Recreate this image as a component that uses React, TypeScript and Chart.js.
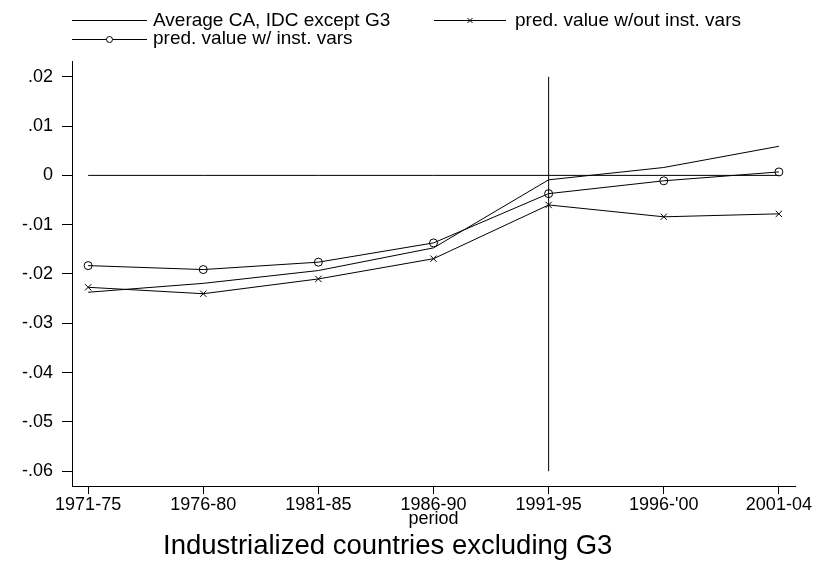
import React, { useEffect, useRef } from "react";
import { Chart, registerables } from "chart.js";

Chart.register(...registerables);

const categories = ["1971-75", "1976-80", "1981-85", "1986-90", "1991-95", "1996-'00", "2001-04"];
const avgCA = [-0.0237, -0.0219, -0.0193, -0.0147, -0.0009, 0.0016, 0.0059];
const predNoInst = [-0.0227, -0.0240, -0.0210, -0.0169, -0.0060, -0.0084, -0.0078];
const predInst = [-0.0183, -0.0191, -0.0176, -0.0137, -0.0037, -0.0011, 0.0007];
const zeroLine = [0, 0, 0, 0, 0, 0, 0];
const yTicks = [-0.06, -0.05, -0.04, -0.03, -0.02, -0.01, 0, 0.01, 0.02];
const markerPeriod = "1991-95";
const markerRange = [-0.06, 0.02];

const legendLabels = ["Average CA, IDC except G3", "pred. value w/out inst. vars", "pred. value w/ inst. vars"];
const xTitle = "period";
const subtitle = "Industrialized countries excluding G3";

const FONT = '"Liberation Sans", Arial, sans-serif';

function fmtY(v: number): string {
  const n = Math.round(v * 100);
  if (n === 0) return "0";
  return (n < 0 ? "-" : "") + ".0" + Math.abs(n);
}

const toXY = (arr: number[]) => arr.map((v, i) => ({ x: i, y: v }));

export default function App() {
  const ref = useRef<HTMLCanvasElement>(null);
  useEffect(() => {
    const canvas = ref.current!;
    const markerIdx = categories.indexOf(markerPeriod);

    const overlay = {
      id: "overlay",
      afterDraw(chart: any) {
        const ctx = chart.ctx as CanvasRenderingContext2D;
        ctx.save();
        ctx.strokeStyle = "#000";
        ctx.fillStyle = "#000";
        ctx.lineWidth = 1;
        // legend
        ctx.font = "19px " + FONT;
        ctx.textBaseline = "alphabetic";
        ctx.textAlign = "left";
        const drawSample = (x0: number, x1: number, y: number, marker: string) => {
          ctx.beginPath();
          ctx.moveTo(x0, y);
          ctx.lineTo(x1, y);
          ctx.stroke();
          const cx = (x0 + x1) / 2;
          if (marker === "circle") {
            ctx.fillStyle = "#fff";
            ctx.beginPath();
            ctx.arc(cx, y, 3, 0, Math.PI * 2);
            ctx.fill();
            ctx.stroke();
            ctx.fillStyle = "#000";
          } else if (marker === "cross") {
            ctx.beginPath();
            ctx.moveTo(cx - 2.5, y - 2.5);
            ctx.lineTo(cx + 2.5, y + 2.5);
            ctx.moveTo(cx + 2.5, y - 2.5);
            ctx.lineTo(cx - 2.5, y + 2.5);
            ctx.stroke();
          }
        };
        drawSample(72, 147, 20.5, "none");
        ctx.fillText(legendLabels[0], 153, 26);
        drawSample(434, 506, 20.5, "cross");
        ctx.fillText(legendLabels[1], 515, 26);
        drawSample(72, 147, 39.5, "circle");
        ctx.fillText(legendLabels[2], 153, 44);
        // axis title
        ctx.font = "18px " + FONT;
        ctx.textAlign = "center";
        const ca = chart.chartArea;
        ctx.fillText(xTitle, (ca.left + ca.right) / 2, 524);
        // subtitle
        ctx.font = "27.5px " + FONT;
        ctx.textAlign = "left";
        ctx.fillText(subtitle, 163, 554);
        ctx.restore();
      },
    };

    const lineDs = (label: string, data: number[], pointStyle: any, radius: number) => ({
      label,
      data: toXY(data),
      borderColor: "#000",
      backgroundColor: "rgba(0,0,0,0)",
      borderWidth: 1,
      pointStyle,
      pointRadius: radius,
      pointBorderColor: "#000",
      pointBackgroundColor: "rgba(0,0,0,0)",
      pointBorderWidth: 1,
      tension: 0,
    });

    const chart = new Chart(canvas, {
      type: "line",
      data: {
        datasets: [
          lineDs("zero", zeroLine, "circle", 0),
          {
            ...lineDs("marker", [], "circle", 0),
            data: [
              { x: markerIdx, y: markerRange[0] },
              { x: markerIdx, y: markerRange[1] },
            ],
          },
          lineDs(legendLabels[0], avgCA, "circle", 0),
          lineDs(legendLabels[1], predNoInst, "crossRot", 4.5),
          lineDs(legendLabels[2], predInst, "circle", 4),
        ],
      },
      options: {
        responsive: false,
        animation: false,
        devicePixelRatio: 1,
        layout: { padding: { left: 0, right: 20, top: 61, bottom: 0 } },
        plugins: { legend: { display: false }, tooltip: { enabled: false }, title: { display: false } },
        elements: { line: { borderWidth: 1 } },
        scales: {
          x: {
            type: "linear",
            min: -0.14,
            max: 6.14,
            afterBuildTicks: (s: any) => {
              s.ticks = categories.map((_, i) => ({ value: i }));
            },
            afterFit: (s: any) => {
              s.height = 78;
            },
            ticks: {
              autoSkip: false,
              maxRotation: 0,
              color: "#000",
              padding: 0,
              font: { family: FONT, size: 18 },
              callback: (v: any) => categories[Math.round(Number(v))] ?? "",
            },
            grid: { drawOnChartArea: false, drawTicks: true, tickLength: 8, color: "#000", lineWidth: 1 },
            border: { display: true, color: "#000", width: 1 },
          },
          y: {
            type: "linear",
            min: -0.063,
            max: 0.0232,
            afterBuildTicks: (s: any) => {
              s.ticks = yTicks.map((v) => ({ value: v }));
            },
            afterFit: (s: any) => {
              s.width = 72;
            },
            ticks: {
              color: "#000",
              padding: 9,
              font: { family: FONT, size: 18 },
              callback: (v: any) => fmtY(Number(v)),
            },
            grid: { drawOnChartArea: false, drawTicks: true, tickLength: 10, color: "#000", lineWidth: 1 },
            border: { display: true, color: "#000", width: 1 },
          },
        },
      } as any,
      plugins: [overlay],
    });
    return () => chart.destroy();
  }, []);

  return (
    <div style={{ position: "fixed", left: 0, top: 0, width: 815, height: 564, background: "#fff" }}>
      <canvas ref={ref} width={815} height={564} style={{ width: 815, height: 564, display: "block" }} />
    </div>
  );
}
